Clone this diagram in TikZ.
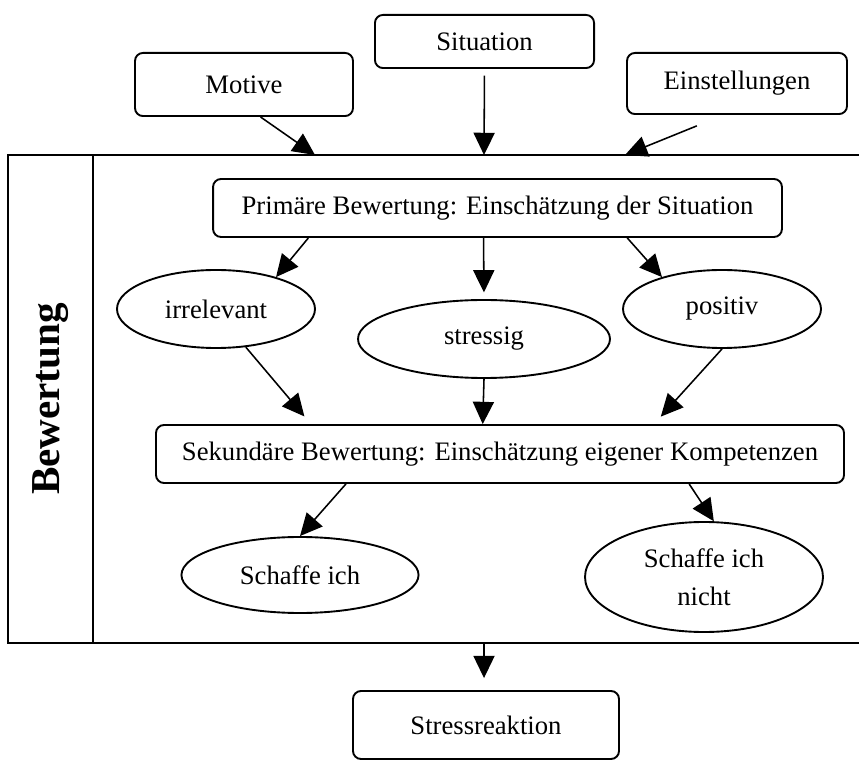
\documentclass[tikz,border=0pt]{standalone}
\usepackage{fontspec}
\setmainfont{Liberation Serif}
\usepackage{tikz}
\usetikzlibrary{shapes.geometric, arrows.meta, calc}
\tikzset{
  block/.style={rectangle, draw=black, rounded corners=3.6pt,
    line width=0.85pt, inner sep=0pt, font=\fontsize{12}{14}\selectfont},
  oval/.style={ellipse, draw=black, line width=0.85pt, inner sep=0pt,
    align=center, font=\fontsize{12}{17}\selectfont},
  arrow/.style={-{Triangle[length=10pt, width=9.5pt]}, line width=0.7pt},
  line/.style={line width=0.85pt}
}

\begin{document}
\begin{tikzpicture}[x=0.45pt, y=-0.45pt]
  \useasboundingbox (0,0) rectangle (859,763);

  % Inputs
  \node[block, minimum width=98.6pt, minimum height=23.9pt] (situation) at (484.5,41.5) {Situation};
  \node[block, minimum width=98.1pt, minimum height=28.4pt] (motive) at (244,84.5) {Motive};
  \node[block, minimum width=99pt, minimum height=27.5pt] (einst) at (737,83.5) {Einstellungen};

  % Bewertung frame
  \draw[line] (859,155) -- (8,155) -- (8,643) -- (859,643);
  \draw[line] (93,155) -- (93,643);
  \node[rotate=90, font=\fontsize{18.5}{20}\selectfont\bfseries] (bew) at (50.5,399) {Bewertung};
  \coordinate (tMot) at (315,155);
  \coordinate (tSit) at (484,155);
  \coordinate (tEin) at (625,155);
  \coordinate (bOut) at (484,643);

  % Primary and secondary appraisal
  \node[block, minimum width=256pt, minimum height=26.1pt] (primaer) at (497.5,208) {Primäre Bewertung: Einschätzung der Situation};
  \node[oval, minimum width=89.1pt, minimum height=35.1pt] (irrel) at (216,309) {irrelevant};
  \node[oval, minimum width=113.4pt, minimum height=35.1pt] (stressig) at (484,339) {stressig};
  \node[oval, minimum width=89.1pt, minimum height=35.1pt] (positiv) at (722,309) {positiv};
  \node[block, minimum width=309.6pt, minimum height=26.1pt] (sekundaer) at (500,454) {Sekundäre Bewertung: Einschätzung eigener Kompetenzen};
  \node[oval, minimum width=106.7pt, minimum height=34.2pt] (schaffe) at (300,575) {Schaffe ich};
  \node[oval, minimum width=107.1pt, minimum height=49.5pt] (nicht) at (704,577) {Schaffe ich\\nicht};

  % Output
  \node[block, minimum width=119.7pt, minimum height=30.6pt] (stressr) at (486,725) {Stressreaktion};

  % Connections
  \draw[arrow] (motive.-63) -- (tMot);
  \draw[arrow, shorten <=3pt] (situation.south) -- (tSit);
  \draw[arrow, shorten <=13pt] (einst.-113) -- (tEin);
  \draw[arrow] (primaer.-171) -- (irrel.28);
  \draw[arrow, shorten >=3pt] (primaer.-115) -- (stressig.north);
  \draw[arrow] (primaer.-13) -- (positiv.152);
  \draw[arrow, shorten >=4.5pt] (irrel.-52) -- (sekundaer.171.6);
  \draw[arrow] (stressig.south) -- (sekundaer.120.4);
  \draw[arrow, shorten >=4.5pt] (positiv.south) -- (sekundaer.11);
  \draw[arrow] (sekundaer.-169) -- (schaffe.north);
  \draw[arrow] (sekundaer.-9.5) -- (nicht.80);
  \draw[arrow, shorten >=5.4pt] (bOut) -- (bOut |- stressr.north);
\end{tikzpicture}
\end{document}
